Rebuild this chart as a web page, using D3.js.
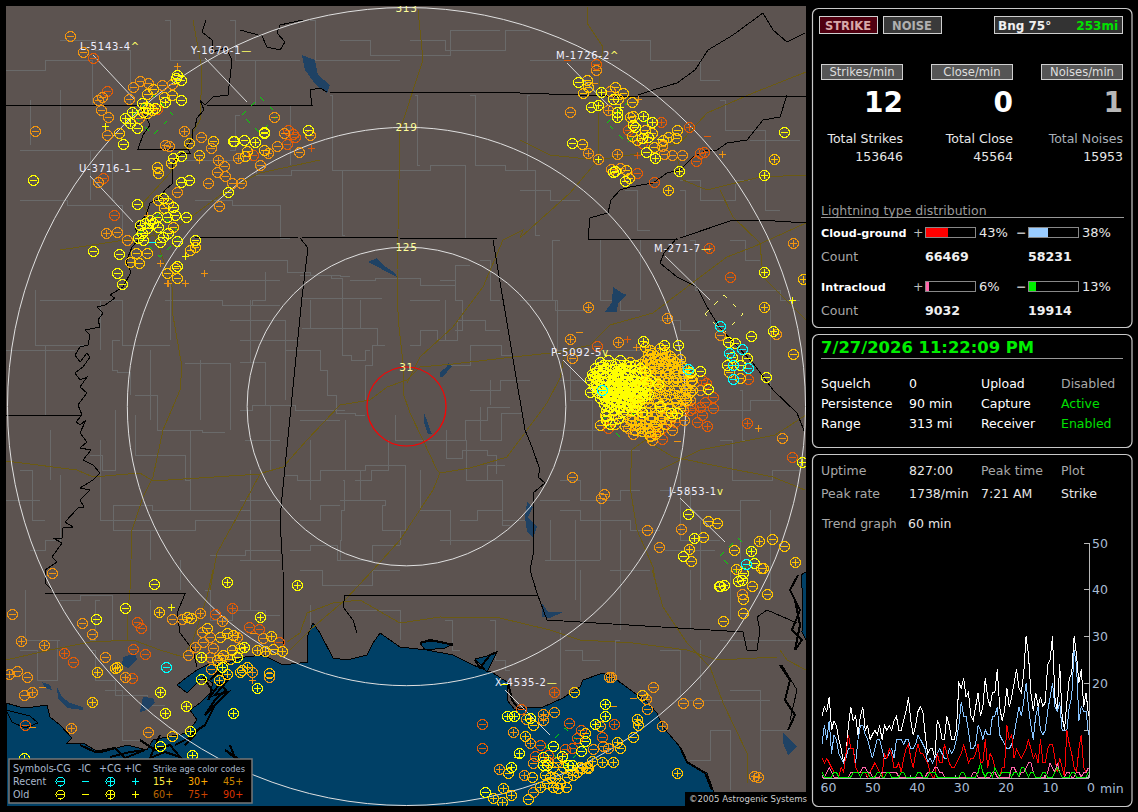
<!DOCTYPE html>
<html lang="en">
<head>
<meta charset="UTF-8">
<title>Lightning detector display</title>
<script src="https://d3js.org/d3.v7.min.js"></script>
<style>
  html, body { margin: 0; background: #000; }
  svg { display: block; font-family: "DejaVu Sans", sans-serif; }
  .crisp { shape-rendering: crispEdges; }
</style>
</head>
<body>
<svg width="1138" height="812"></svg>
<script>
// all map coordinates are in plot grid units, flat x,y lists
const ringMiles = [313, 219, 125];
const closeMiles = 31;

const gulf = [6,703,20,707,33,707,47,705,50,717,60,725,72,738,67,743,83,743,100,753,127,745,147,750,153,740,167,737,187,733,197,720,190,710,200,703,210,693,213,683,203,677,187,693,177,685,187,677,197,670,207,665,227,663,245,657,263,655,283,665,308,662,307,637,313,623,320,633,333,658,347,660,367,655,373,643,380,633,400,647,427,650,453,655,473,665,493,673,507,682,507,700,515,710,523,708,543,707,563,698,580,687,583,680,603,673,617,680,633,692,647,702,657,713,663,727,680,747,687,763,707,773,713,790,717,806,6,806];
const lakes = [
  [302,55,315,60,318,75,330,85,327,93,316,85,305,70],
  [368,262,377,258,383,265,395,273,397,277,387,272,378,267],
  [440,377,440,372,447,367,448,363,452,366,447,372,443,377],
  [424,413,427,420,430,430,432,434,428,434,424,423],
  [527,502,533,507,528,517,537,527,533,538,527,532,525,517],
  [542,603,548,612,563,612,550,618,542,617],
  [613,287,622,293,627,295,618,303,617,312,605,312,612,302],
  [123,657,135,653,137,660,128,668,122,665],
  [143,697,153,698,155,703,147,710,140,712],
  [57,687,62,697,70,703,83,707,83,710,67,708,58,698],
  [42,682,50,685,52,690,45,688],
  [783,733,797,747,788,755,783,743]
];
const bays = [
  [420,643,432,641,453,644,445,648,425,650],
  [475,659,487,656,497,652,492,662,487,672,480,664],
  [6,710,30,716,38,723,25,728,12,722],
  [801,575,806,572,806,640,802,632,803,600]
];
const marsh = [
  [203,677,212,690,208,700,220,683,226,690,215,700,205,715,215,705,205,725,190,735,200,728,185,745,195,735,175,745],
  [210,680,218,672,228,680,215,695,228,692,212,708],
  [80,745,95,752,115,748,125,758,145,750,130,752,110,757],
  [140,740,155,750,170,745,180,757,165,752,150,758,160,735],
  [230,745,235,758,225,750,240,760],
  [798,575,790,590,800,610,792,630,802,640,795,650,800,625,795,600],
  [780,665,790,680,785,700,795,715,788,730],
  [475,660,480,668,490,655,497,652],
  [420,643,430,640,445,643,453,645],
  [508,682,512,700,518,708],
  [680,747,687,762,705,773,712,790]
];
const borders = [
  [206,20,202,32,212,40,212,52,226,48,232,60,230,78,228,95,213,97,205,105,200,100,204,110,197,118,195,127,192,130,193,137,187,147,190,153,182,153,173,163,172,173,173,183,165,190,160,198,150,203,146,215,135,228,140,238,132,247,126,262,131,272,123,287,110,295,115,298,105,305,97,307,103,313,98,320,100,327,85,330,90,335,88,345,80,347,75,355,80,362,87,353,90,357,83,367,75,373,80,380,87,377,80,387,87,393,78,405,82,415,76,422,80,425,86,420,80,433,87,442,80,448,91,450,83,460,93,465,100,473,93,480,80,488,90,490,80,500,84,507,78,508,65,522,73,527,63,528,62,538,53,538,62,543,52,557,57,562,45,570,45,583,52,590],
  [6,105,140,105],[140,105,150,125,143,135,138,149,188,149],
  [207,105,312,105,310,90,320,88,327,92,520,93,607,96,787,96,806,97],
  [303,20,280,25,277,33,285,42,280,50,267,47,262,36,240,30],
  [195,238,300,237,497,239,588,239,678,239],
  [588,239,590,218,600,215,608,213,611,200,620,190,630,187,653,183,667,173,680,170,693,157,707,150,717,150,727,143,747,140,763,120,780,117,787,95],
  [638,95,653,90,677,83,695,70,708,50,733,35,763,13,773,30,787,42,805,33],
  [677,238,664,253,660,263,677,277,697,287,707,307,720,328,753,363,773,390,797,413,805,433],
  [680,238,733,220,760,220,806,223],
  [300,238,308,248,302,297,282,497,280,520,283,570,284,647],
  [493,240,512,353,525,430,532,447,540,470,538,477,545,483,533,493,533,530,534,550,530,570,537,593,547,620],
  [345,595,538,595],[345,595,343,607,353,620,357,633],
  [547,620,743,632,747,650,757,650,760,630,757,617,767,610,797,623],
  [6,415,82,415],
  [45,593,185,594,177,613,180,633,193,650,197,667],
  [782,665,797,690,790,720]
];
const highways = [
  [418,10,423,60,400,130,398,230,397,270,397,297,399,327,403,363,403,393,410,413,423,440,437,470,440,473,433,490,400,540,373,570,345,600,310,630,290,650],
  [6,461,77,470,93,477,140,473,153,481,260,474,262,473,283,467,307,440,340,405,370,400,387,387,407,380,420,367,453,364,513,357,560,352,590,345,610,325,653,313,687,287,727,257,753,247,806,223],
  [407,383,420,357,453,327,483,287,503,240,523,230,520,238,570,193,598,160,600,67,603,47,587,23,588,7],
  [440,473,470,468,507,457,527,430,547,403,560,378,565,352],
  [6,660,50,650,90,642,133,640,160,650,183,657,193,640,207,597,213,570],
  [127,640,127,620,130,590,132,530,143,497,153,477,163,430,180,390,182,367,172,310,173,290,160,250,143,203,170,173,200,120,202,70,193,20],
  [287,642,300,633,307,613,333,603,360,600,400,623,440,617,500,618,550,630,580,640,633,643,687,650,717,660,777,657],
  [652,570,663,607,687,643,710,667,723,703,747,753,747,783],
  [645,440,632,450,630,487,637,530,653,567,657,590],
  [645,440,673,457,727,468,773,477,805,490],
  [520,140,550,155,597,160,643,153,680,143,707,113,753,93,806,72],
  [677,157,683,180,707,190,760,177,806,175],
  [720,190,733,217,760,243,763,277,806,320],
  [260,474,237,517,217,553,210,590],
  [320,160,260,173,227,190,170,233,60,250],
  [780,650,787,660,806,670],
  [806,415,775,435,700,450,660,470]
];
const counties = [
  [253,260,285,260,290,272,330,275,350,276],[300,275,320,275,342,278,342,298,382,298],[265,272,265,300,240,305],[342,298,342,328,375,328,380,345],[302,298,342,298],
  [302,328,342,328,342,355,360,360,370,350],[240,362,265,362,265,405,240,410],[265,405,325,410,345,410],[327,370,327,395,345,413,365,415],[285,350,320,350,320,370,327,370],
  [330,470,400,465,410,490,400,530],[340,500,375,500,395,505,370,530,405,530],[343,480,345,510,338,540,343,560],[395,415,395,440,430,440,465,440,465,420,510,407],[463,440,470,480,505,465],
  [480,407,480,440,523,413],[447,430,445,458,480,450,495,455,497,473],[388,440,388,470,355,480],[300,520,340,505],[285,475,310,480,330,470],[290,550,330,545,345,560,400,545],[300,570,345,585,400,570],[400,545,400,530],[440,540,480,540,530,540],
  [470,480,500,480,505,520,530,520],[460,520,495,510,510,525],[420,470,420,510,450,510,450,545],[350,280,400,278,440,285,470,265],[410,345,430,330,445,340,470,320,500,330],[440,280,470,300,455,330],[450,365,490,345,512,355],[470,390,530,380],[490,380,490,405],[370,400,360,365,385,345],
  [40,300,120,300],[35,290,35,345,85,345],[6,350,75,350],[45,345,45,415],[120,300,125,345,170,345],[170,340,170,280],[120,340,105,370,130,372,130,395],[135,395,180,430,225,432],[185,363,230,363,230,430],[230,320,285,320,285,400],[165,300,280,305],
  [115,410,115,470,90,455],[135,415,135,455,180,455,190,480],[190,430,190,510,250,510,250,475],[190,510,115,505,112,530,150,530,150,560],[150,530,240,520,280,520],[180,560,180,590],[210,555,280,550],[60,475,60,540,30,550],[20,470,45,520],[25,590,25,640,60,640],[60,600,100,595,125,640],[150,600,150,640],[205,590,215,620,250,610,280,615],[250,570,250,610],[20,650,55,680,60,640],[90,650,100,680,130,695,165,705],[105,690,140,740],
  [60,40,130,50,130,105],[6,70,85,60],[85,60,100,105],[165,20,175,60,230,60],[230,20,240,60,300,60],[260,60,250,105],[310,20,320,60,400,60],[20,150,110,150,115,200],[20,200,115,205,130,240],[185,160,250,160,262,175,320,170],[195,200,270,205,290,238],[240,115,230,150],[290,105,290,165],[330,95,335,170,400,170],[340,170,345,235],[400,170,460,165,470,238],[415,95,420,165],[470,95,480,165,530,170],[530,95,525,170],[410,40,480,50,530,30],[340,40,400,55,500,30],[530,170,540,235],
  [560,240,545,300,570,350],[600,240,600,300,640,310],[640,240,640,300],[520,300,590,310],[555,350,585,400,600,450,600,560],[560,450,640,450],[560,480,600,500,640,490],[540,430,600,430],[560,510,600,520],[680,450,680,540,720,540],[660,490,720,510,760,500],[720,440,745,480,800,470],[660,390,720,410,780,400],[740,390,745,440],[770,310,770,400],[660,320,700,330],[700,290,760,290,800,300],[690,240,700,290],[730,240,760,260],[620,40,680,60,720,80],[530,60,620,60],[720,100,730,130,800,140],[680,180,720,200,750,180],[625,190,650,230],[680,190,690,235],[750,140,780,210],[520,190,580,200],
  [560,630,560,700],[620,640,610,680],[660,650,700,700,770,700],[700,640,700,690],[720,640,800,640],[730,690,790,730],[760,700,760,770],[690,760,730,730,730,790],[445,620,460,650],[490,620,500,660,510,670],[350,610,400,610,400,640],[310,605,310,640],[100,600,90,640],[565,650,600,660],[620,590,620,630],[580,570,580,620],[690,570,690,630],[730,570,730,620],[600,520,660,530],[545,560,600,560],
  [250,300,250,362],[240,340,300,340],[270,405,270,470],[245,440,280,440],[240,500,280,500],[250,470,250,560],[240,560,280,560],[300,420,340,420],[310,440,310,500],[345,420,345,470],[360,470,360,500],[310,300,310,328],[360,300,360,328],[445,300,445,340],[480,260,500,300],[410,300,440,300],[540,500,570,500],[550,520,550,560],[575,520,575,600],[610,570,650,570],[620,530,620,590],[665,550,715,550],[700,520,700,600],[740,500,740,560],[770,510,770,600],[640,350,560,380],[100,440,100,520],[100,520,150,520],[50,430,50,480],[6,500,40,500],[100,350,100,300],[150,350,150,420],[200,360,200,420],[210,260,280,260],[210,280,280,280],[90,200,90,150],[60,90,60,140],[30,100,30,145]
];

const negY = [[177,75],[181,80],[176,78],[181,100],[123,144],[181,156],[173,158],[181,182],[189,180],[228,192],[233,141],[234,141],[244,140],[264,132],[264,133],[308,130],[142,103],[148,108],[155,108],[143,112],[137,128],[137,204],[93,251],[119,254],[140,225],[145,223],[150,220],[147,228],[153,223],[142,233],[138,238],[143,240],[157,217],[158,227],[163,237],[168,233],[160,242],[167,217],[175,215],[186,217],[163,198],[173,207],[177,241],[195,240],[177,266],[122,284],[117,273],[33,180],[578,82],[601,92],[613,99],[591,107],[572,143],[615,171],[613,172],[625,181],[646,152],[642,138],[633,125],[635,127],[648,137],[784,132],[751,336],[728,342],[735,343],[732,357],[747,358],[727,365],[740,365],[766,377],[683,556],[751,551],[754,563],[743,573],[742,580],[738,581],[724,585],[719,586],[720,586],[125,608],[96,619],[154,584],[201,657],[237,657],[201,679],[160,746],[585,741],[581,751],[553,746],[543,757],[543,765],[547,765],[572,765],[485,792],
  [600,362],[608,360],[615,364],[620,360],[595,368],[605,368],[612,370],[622,368],[630,366],[640,368],[592,374],[600,374],[610,376],[618,374],[628,374],[636,376],[645,372],[590,380],[598,380],[606,382],[614,380],[622,382],[632,380],[640,382],[650,380],[594,386],[602,386],[610,388],[618,386],[626,388],[634,386],[644,388],[597,392],[605,392],[613,394],[621,392],[629,394],[638,392],[648,394],[600,398],[608,398],[616,400],[624,398],[632,400],[642,398],[604,404],[612,404],[620,406],[628,404],[636,406],[606,410],[614,410],[622,412],[632,410],[642,412],[606,416],[618,418],[593,376],[590,392],[606,420],[610,424],[640,395],[627,395],[622,388],[630,388],[616,388],[658,384],[671,413],[677,413],[688,514],[660,406],[620,370],[690,372],[700,371],[708,389],[678,345],[664,345]];
const negYCore = [[597,371],[603,371],[616,371],[625,371],[634,371],[595,377],[604,377],[613,377],[623,377],[632,377],[642,377],[596,383],[604,383],[612,383],[620,383],[629,383],[638,383],[647,383],[600,389],[607,389],[615,389],[624,389],[632,389],[641,389],[602,395],[610,395],[618,395],[626,395],[635,395],[645,395],[606,401],[614,401],[622,401],[630,401],[639,401],[610,407],[618,407],[626,407],[634,407],[603,365],[611,365],[626,365],[635,365],[611,392],[619,384],[625,392],[617,378],[631,384],[621,397],[613,388]];
const negG = [[172,95],[164,97],[147,94],[153,89],[119,133],[189,143],[213,141],[199,155],[171,163],[157,167],[158,173],[145,107],[152,110],[147,113],[173,227],[168,203],[158,200],[164,208],[147,253],[195,247],[190,250],[136,253],[139,263],[130,262],[175,268],[167,273],[177,278],[233,141],[264,150],[247,151],[245,156],[587,80],[588,87],[583,93],[615,87],[623,93],[618,99],[632,102],[630,117],[633,116],[632,136],[637,140],[645,130],[652,133],[676,138],[677,130],[668,137],[663,140],[654,147],[582,144],[626,170],[629,178],[708,521],[717,523],[703,537],[691,561],[772,539],[784,546],[734,550],[761,568],[763,568],[752,586],[793,354],[729,372],[740,378],[723,621],[743,613],[743,599],[767,594],[752,586],[574,692],[642,695],[533,725],[585,733],[633,737],[620,748],[532,777],[508,773],[528,799],[273,649],[269,673],[187,617],[191,618],[207,628],[220,637],[227,633],[233,635],[240,648],[232,650],[223,655],[217,660],[230,659],[240,672],[242,670],[172,736],[545,775],[550,777],[555,778],[547,783],[553,787],[558,788],[566,787],[560,783],[567,777],[573,775],[577,772],[582,768],[588,768],[570,770],[580,767],[587,767],[553,767],[563,767],
  [645,347],[650,350],[660,348],[648,354],[655,356],[665,352],[670,356],[645,360],[652,362],[660,360],[668,364],[675,362],[630,362],[640,364],[650,368],[658,368],[668,370],[676,370],[684,368],[640,372],[650,376],[660,376],[668,378],[676,378],[684,376],[692,380],[630,384],[642,384],[650,386],[660,386],[668,386],[678,386],[686,388],[640,394],[650,394],[660,394],[670,394],[680,396],[690,392],[628,404],[636,402],[648,402],[658,402],[668,404],[676,402],[686,400],[614,414],[626,414],[636,412],[646,412],[656,412],[666,412],[630,420],[640,420],[650,420],[660,420],[640,428],[648,428],[655,426],[655,434],[650,436],[635,430],[625,426],[615,424],[605,415],[600,425]];
const negGCore = [[652,353],[662,353],[648,359],[656,359],[664,359],[672,359],[680,359],[644,366],[654,366],[663,366],[672,366],[681,366],[646,373],[656,373],[665,373],[674,373],[683,373],[690,373],[646,381],[655,381],[664,381],[673,381],[682,381],[691,381],[645,390],[655,390],[665,390],[675,390],[685,390],[692,390],[645,398],[655,398],[665,398],[675,398],[685,398],[640,408],[650,408],[660,408],[670,408],[680,408],[632,416],[642,416],[652,416],[662,416],[672,416],[636,424],[646,424],[656,424],[666,424],[642,431],[650,431],[658,431]];
const negO = [[70,36],[83,52],[102,97],[98,100],[101,110],[108,117],[133,87],[140,81],[148,83],[162,85],[172,84],[129,99],[139,118],[107,135],[201,137],[211,148],[165,145],[169,146],[177,192],[208,183],[219,206],[232,183],[241,183],[217,172],[224,166],[225,176],[98,182],[127,240],[117,232],[260,165],[277,146],[274,117],[284,133],[299,152],[310,135],[35,131],[610,91],[596,70],[570,112],[662,146],[664,154],[672,155],[682,155],[620,168],[611,169],[572,358],[681,529],[647,530],[659,547],[572,477],[604,494],[601,498],[782,438],[720,335],[776,334],[742,594],[653,687],[646,699],[647,709],[683,703],[698,703],[526,719],[554,712],[603,746],[593,749],[600,726],[508,773],[533,792],[12,614],[52,573],[82,623],[92,634],[172,619],[182,619],[263,638],[269,677],[105,657],[27,677],[24,695],[17,671],[148,732],[648,432],[633,434],[202,632],[210,637],[203,642],[213,648],[188,655],[210,657],[220,658],[211,669],[240,672],[548,762],[533,763],[557,762],
  [628,428],[640,424],[612,420],[684,420],[672,430],[690,400],[683,410],[670,420],[663,418],[652,440],[700,390]];
const negR = [[93,58],[107,91],[157,109],[103,178],[114,215],[253,155],[287,144],[288,130],[295,137],[293,134],[596,64],[628,130],[642,143],[637,173],[654,182],[696,161],[700,153],[704,152],[730,277],[597,346],[702,380],[706,383],[713,397],[705,402],[700,407],[693,408],[713,408],[702,415],[697,422],[690,410],[662,439],[675,422],[662,428],[608,428],[633,434],[650,432],[655,432],[792,457],[748,379],[521,709],[482,724],[482,748],[569,723],[577,738],[602,737],[581,730],[572,748],[565,749],[540,745],[137,622],[141,628],[73,662],[133,649],[145,654],[132,678],[25,725],[215,614],[249,627],[259,629],[279,642],[535,756],[548,755]];
const posY = [[165,102],[132,112],[125,118],[130,123],[255,142],[643,341],[598,105],[601,92],[643,116],[652,122],[655,158],[679,171],[617,117],[617,112],[694,538],[751,551],[605,704],[605,716],[595,724],[507,716],[514,716],[530,718],[519,753],[511,767],[562,756],[568,765],[764,175],[764,272],[802,462],[773,331],[227,582],[297,585],[260,617],[244,647],[201,657],[222,667],[257,688],[233,713],[190,731],[186,706],[160,692],[165,713],[192,755],[24,758],[608,395],[618,380],[630,405]];
const posG = [[774,159],[689,549],[736,569],[759,541],[795,562],[764,272],[764,307],[803,279],[159,612],[97,672],[117,667],[115,668],[271,636],[282,651],[265,651],[257,650],[227,674],[219,680],[247,667],[92,702],[637,719],[638,725],[617,742],[525,736],[503,788],[511,795],[493,798],[502,802],[540,787],[592,761],[602,762],[613,762],[677,773],[668,190],[660,387]];
const posO = [[184,131],[218,160],[238,158],[268,153],[106,233],[608,110],[617,154],[598,159],[588,153],[570,339],[618,342],[793,243],[588,307],[667,318],[200,613],[222,621],[44,645],[21,641],[32,692],[9,674],[71,728],[237,637],[195,647],[252,672],[125,677],[611,677],[609,677],[543,714],[543,720],[513,732],[530,743],[499,769],[524,775],[608,748],[662,726],[754,776],[758,777]];
const posR = [[64,653],[232,608],[709,248],[747,423],[554,692],[614,724],[707,426],[661,122],[689,127]];
const cyanNeg = [[720,326],[742,349],[729,353],[733,365],[748,368],[733,379],[688,369],[746,564],[166,667],[602,390]];
const cyanPos = [[152,242]];
const icPosY = [[105,126],[185,256],[620,107],[598,159],[792,300],[171,607]];
const icPosO = [[177,66],[199,160],[160,263],[204,273],[167,283],[185,283],[147,215],[638,99],[722,154],[636,347],[758,428],[252,680],[168,283]];
const icPosR = [[311,148],[637,155],[627,339]];
const icNegY = [[660,139],[160,746],[517,757],[504,684]];
const icNegO = [[594,83],[579,332],[677,441],[42,687],[253,633],[32,727],[633,698],[613,706]];
const icNegR = [[707,136],[567,60]];

const cellNames = ["L-5143-4", "Y-1670-1", "U-3716-1", "M-1726-2", "M-271-7", "P-5092-5", "J-5853-1", "X-4535-2"];
const cellTrend = ["^", "—", "—", "^", "—", "v", "v", "—"];
const cellLabelAt = [[80,50],[191,54],[79,172],[556,59],[654,252],[551,356],[669,495],[495,686]];
const cellLeader = [[93,55,135,100],[205,58,247,102],[90,176,133,222],[567,63,610,107],[665,256,710,300],[563,360,600,397],[680,498,725,542],[505,690,550,735]];
const cellBox = [[153,115,20],[260,115,18],[160,235,22],[627,123,20],[724,314,19],[621,420,18],[738,556,18],[565,747,19]];
const cellBoxColor = ["#00e000", "#00e000", "#00e000", "#00e000", "#ffff66", "#00e000", "#00e000", "#00e000"];

// trend graph, strikes per minute, oldest first
const trendTotal = [13,15,14,17,10,12,11,8,6,3,5,11,15,12,13,9,13,15,10,11,8,9,10,9,11,8,11,10,11,10,12,13,10,10,12,14,17,12,9,11,14,15,14,9,5,6,6,4,12,11,8,8,13,11,8,8,10,20,19,21,17,18,13,12,15,18,13,15,21,17,15,18,18,23,15,12,14,19,15,17,20,23,19,18,22,30,26,18,14,18,15,17,15,16,24,25,30,17,14,24,13,10,16,21,22,30,26,20,23,15,18,13];
const trendNegCg = [7,11,8,12,5,9,8,5,4,3,4,6,6,6,3,8,11,11,9,8,6,4,6,8,8,6,4,4,5,6,4,8,8,8,7,8,8,6,6,7,9,8,7,6,3,4,3,4,5,6,5,4,4,6,5,6,8,11,16,13,13,10,6,6,7,11,10,8,10,9,9,13,13,15,9,8,7,6,6,7,9,12,15,13,16,20,15,11,8,13,15,10,9,10,14,17,20,15,14,16,10,10,10,15,17,27,24,12,15,14,14,9];
const trendPosCg = [4,3,4,3,2,1,1,0,2,1,5,9,6,6,2,1,1,1,1,0,1,2,3,2,1,0,5,4,6,5,2,2,3,1,4,6,7,4,2,5,7,5,5,4,3,1,0,0,5,3,3,7,5,3,2,2,3,4,5,7,5,3,4,4,5,7,3,3,8,2,5,4,2,1,0,2,2,11,8,9,4,6,5,4,5,6,8,6,4,5,3,8,3,3,6,7,7,4,1,4,2,0,10,7,5,2,1,6,9,2,1,2];
const trendPosIc = [0,0,1,2,1,0,0,0,0,0,0,0,1,1,1,1,1,2,2,1,1,0,0,0,0,1,1,1,1,1,1,1,0,0,0,0,0,0,0,0,0,0,0,0,1,1,1,2,2,1,1,0,0,0,0,0,0,0,0,0,0,0,0,1,1,0,0,0,0,0,0,1,1,0,0,0,0,0,0,2,2,1,0,1,1,2,3,3,1,0,0,0,0,0,1,3,2,1,3,1,0,0,1,1,0,0,1,1,0,1,1,2];
const trendNegIc = [1,0,0,0,0,1,1,0,0,0,0,0,0,1,1,1,0,1,1,1,0,0,0,1,1,0,0,1,1,0,0,0,0,1,1,0,0,0,0,0,1,1,0,0,0,1,1,1,0,0,0,0,0,0,0,0,0,0,1,1,0,0,0,0,0,1,3,1,0,1,1,0,2,1,0,1,1,1,1,0,1,1,0,2,2,1,0,1,1,0,0,0,1,1,0,0,0,1,2,1,0,0,0,0,1,1,0,0,0,0,0,1];
const trendTickValues = [50, 40, 30, 20, 10, 0];
const trendLabelValues = [50, 40, 30, 20];
const trendMinuteTicks = [60, 50, 40, 30, 20, 10, 0];

const typeRows = [["Cloud-ground", 43, 38, 66469, 58231], ["Intracloud", 6, 13, 9032, 19914]];
const rateLabels = ["Strikes/min", "Close/min", "Noises/min"];
const rateValues = [12, 0, 1];
const totalLabels = ["Total Strikes", "Total Close", "Total Noises"];
const totalValues = [153646, 45564, 15953];
const statusRows = [["Squelch", "0", "Upload", "Disabled"], ["Persistence", "90 min", "Capture", "Active"], ["Range", "313 mi", "Receiver", "Enabled"]];
const ageLabels = ["15+", "30+", "45+", "60+", "75+", "90+"];
const ageColors = ["#ffee44", "#ffaa00", "#cc8800", "#bb6600", "#cc4400", "#dd3300"];

const YEL = "#ffff00", GOLD = "#ffc400", ORG = "#f09410", RED = "#e05c08", CYAN = "#00ffff";
const svg = d3.select("svg");
svg.append("rect").attr("width", 1138).attr("height", 812).attr("fill", "#000");

const mapX = d3.scaleLinear().domain([6, 806]).range([6, 806]);
const mapY = d3.scaleLinear().domain([6, 806]).range([6, 806]);
const ringR = d3.scaleLinear().domain([0, 313]).range([0, 399]);
const pairs = f => d3.range(0, f.length, 2).map(i => [f[i], f[i + 1]]);
const path = d3.line().x(d => mapX(d[0])).y(d => mapY(d[1]));
const stepPath = d3.line().x(d => mapX(d[0])).y(d => mapY(d[1])).curve(d3.curveStep);

svg.append("defs").append("clipPath").attr("id", "mapclip").append("rect").attr("x", 6).attr("y", 6).attr("width", 800).attr("height", 800);
const map = svg.append("g").attr("clip-path", "url(#mapclip)");
map.append("rect").attr("x", 6).attr("y", 6).attr("width", 800).attr("height", 800).attr("fill", "#5c5350");

function polys(list, fill, stroke, width) {
  map.append("g").selectAll("path").data(list).join("path")
    .attr("d", d => path(pairs(d)) + (fill !== "none" ? "Z" : ""))
    .attr("fill", fill).attr("stroke", stroke).attr("stroke-width", width)
    .attr("class", "crisp");
}
map.append("g").selectAll("path").data(counties).join("path")
  .attr("d", d => stepPath(pairs(d))).attr("fill", "none").attr("stroke", "#6a6a6a").attr("class", "crisp");
polys([gulf], "#004066", "#000", 1);
polys(bays, "#004066", "#000", 1);
polys(lakes, "#1f4264", "none", 0);
polys(marsh, "none", "#000", 2);
polys(highways, "none", "#6b5a12", 1);
polys(borders, "none", "#000", 1);

const cx = mapX(406.5), cy = mapY(406.5);
map.append("g").selectAll("circle").data(ringMiles).join("circle")
  .attr("cx", cx).attr("cy", cy).attr("r", d => ringR(d))
  .attr("fill", "none").attr("stroke", "#e0e0e0").attr("stroke-width", 1);
map.append("circle").attr("cx", cx).attr("cy", cy).attr("r", ringR(closeMiles))
  .attr("fill", "none").attr("stroke", "#ff0000").attr("stroke-width", 1.2);

// cell leaders and dashed boxes
map.append("g").selectAll("line").data(cellLeader).join("line")
  .attr("x1", d => mapX(d[0])).attr("y1", d => mapY(d[1]))
  .attr("x2", d => mapX(d[2])).attr("y2", d => mapY(d[3]))
  .attr("stroke", "#d8d8d8").attr("stroke-width", 1);
map.append("g").selectAll("path").data(cellBox).join("path")
  .attr("d", d => path([[d[0] - d[2], d[1]], [d[0], d[1] - d[2]], [d[0] + d[2], d[1]], [d[0], d[1] + d[2]]]) + "Z")
  .attr("fill", "none").attr("stroke", (d, i) => cellBoxColor[i]).attr("stroke-dasharray", "5 8").attr("class", "crisp");

// strikes
function strikes(list, kind, color) {
  const g = map.append("g").selectAll("g").data(list).join("g")
    .attr("transform", d => `translate(${Math.round(mapX(d[0])) + 0.5},${Math.round(mapY(d[1])) + 0.5})`)
    .attr("stroke", color).attr("fill", "none").attr("class", "crisp");
  if (kind === "negCg" || kind === "posCg") g.append("circle").attr("r", 5);
  g.append("line").attr("x1", -3.5).attr("x2", 3.5);
  if (kind === "posCg" || kind === "posIc") g.append("line").attr("y1", -3.5).attr("y2", 3.5);
}
strikes(negR, "negCg", RED); strikes(posR, "posCg", RED);
strikes(icPosR, "posIc", RED); strikes(icNegR, "negIc", RED);
strikes(negO, "negCg", ORG); strikes(posO, "posCg", ORG);
strikes(icPosO, "posIc", ORG); strikes(icNegO, "negIc", ORG);
strikes(negG, "negCg", GOLD); strikes(negGCore, "negCg", GOLD); strikes(posG, "posCg", GOLD);
strikes(negY, "negCg", YEL); strikes(negYCore, "negCg", YEL); strikes(posY, "posCg", YEL);
strikes(icPosY, "posIc", YEL); strikes(icNegY, "negIc", YEL);
strikes(cyanNeg, "negCg", CYAN); strikes(cyanPos, "negIc", CYAN);

// ring labels
map.append("g").selectAll("text").data(ringMiles.concat([closeMiles])).join("text")
  .attr("x", cx).attr("y", d => cy - ringR(d) + 4).attr("text-anchor", "middle")
  .attr("fill", "#ffff99").attr("font-size", 10.5).attr("letter-spacing", 0.6)
  .text(d => d);

const cells = map.append("g").selectAll("text").data(cellNames).join("text")
  .attr("x", (d, i) => mapX(cellLabelAt[i][0])).attr("y", (d, i) => mapY(cellLabelAt[i][1]))
  .attr("fill", "#f0f0ff").attr("font-size", 10).attr("letter-spacing", 0.8);
cells.append("tspan").text(d => d);
cells.append("tspan").attr("fill", "#ffff66").text((d, i) => cellTrend[i]);

// map legend
const leg = svg.append("g");
leg.append("rect").attr("x", 9).attr("y", 759).attr("width", 243).attr("height", 44).attr("fill", "#000").attr("stroke", "#777").attr("stroke-width", 1.5);
const legText = (x, y, t, c, s) => leg.append("text").attr("x", x).attr("y", y).attr("fill", c || "#a9b8cc").attr("font-size", s || 9.6).text(t);
legText(13, 772, "Symbols"); legText(53, 772, "-CG"); legText(78, 772, "-IC"); legText(99, 772, "+CG"); legText(124, 772, "+IC"); legText(153, 772, "Strike age color codes", null, 8.3);
legText(13, 785, "Recent"); legText(13, 798, "Old");
const legendMark = (x, y, kind, color) => {
  const g = leg.append("g").attr("transform", `translate(${x},${y})`).attr("stroke", color).attr("fill", "none").attr("class", "crisp");
  if (kind.includes("Cg")) g.append("circle").attr("r", 4.5);
  g.append("line").attr("x1", -3.5).attr("x2", 3.5);
  if (kind.startsWith("pos")) g.append("line").attr("y1", -3.5).attr("y2", 3.5);
};
["negCg", "negIc", "posCg", "posIc"].forEach((k, i) => {
  legendMark([60.5, 85.5, 110.5, 135.5][i], 781.5, k, CYAN);
  legendMark([60.5, 85.5, 110.5, 135.5][i], 794.5, k, YEL);
});
ageLabels.forEach((t, i) => legText([153, 188, 223][i % 3], i < 3 ? 785 : 798, t, ageColors[i]));

svg.append("rect").attr("x", 685).attr("y", 792).attr("width", 121).attr("height", 14).attr("fill", "#000");
svg.append("text").attr("x", 689).attr("y", 802).attr("fill", "#cfcfcf").attr("font-size", 8.6).text("©2005 Astrogenic Systems");

// side panels
const panels = [[8, 319], [334, 113], [454, 352]];
svg.append("g").selectAll("rect").data(panels).join("rect")
  .attr("x", 812.5).attr("y", d => d[0] + 0.5).attr("width", 319.5).attr("height", d => d[1])
  .attr("rx", 6).attr("fill", "#000").attr("stroke", "#c8c8c8").attr("stroke-width", 1.2);

const txt = (x, y, t, opts = {}) => svg.append("text").attr("x", x).attr("y", y)
  .attr("fill", opts.c || "#e6e6e6").attr("font-size", opts.s || 12.5)
  .attr("font-weight", opts.b ? "bold" : null).attr("text-anchor", opts.a || "start").text(t);
const button = (x, y, w, h, fill) => svg.append("rect").attr("x", x + 0.5).attr("y", y + 0.5).attr("width", w).attr("height", h)
  .attr("fill", fill).attr("stroke", "#cfcfcf").attr("class", "crisp");

button(819, 16, 58, 17, "#500010"); txt(848, 30, "STRIKE", { c: "#d8a8a8", b: 1, s: 11.5, a: "middle" });
button(883, 16, 58, 17, "#3a3a3a"); txt(912, 30, "NOISE", { c: "#b0b0b0", b: 1, s: 11.5, a: "middle" });
button(994, 16, 128, 17, "#333"); txt(998, 30, "Bng 75°", { c: "#f0f0f0", b: 1, s: 12 }); txt(1118, 30, "253mi", { c: "#00e000", b: 1, s: 12, a: "end" });

const colRight = [903, 1013, 1123];
rateLabels.forEach((t, i) => {
  button(colRight[i] - 82, 64, 81, 15, "#555");
  txt(colRight[i] - 41, 76, t, { a: "middle", c: "#dedede", s: 11.6 });
  txt(colRight[i], 112, rateValues[i], { b: 1, s: 28, a: "end", c: i === 2 ? "#b8b8b8" : "#fff" });
  txt(colRight[i], 143, totalLabels[i], { a: "end", c: i === 2 ? "#a8b0b8" : "#e8e8e8" });
  txt(colRight[i], 161, totalValues[i], { a: "end" });
});

txt(821, 215, "Lightning type distribution", { c: "#9a9a9a" });
const rule = (y, x2) => svg.append("line").attr("x1", 821).attr("x2", x2).attr("y1", y + 0.5).attr("y2", y + 0.5).attr("stroke", "#999").attr("class", "crisp");
rule(217, 1124);

const pct = d3.scaleLinear().domain([0, 100]).range([0, 50]);
const barColors = [["#ff0000", "#99ccff"], ["#ff66aa", "#00ee00"]];
typeRows.forEach((row, r) => {
  const y = [237, 291][r];
  txt(821, y, row[0], { b: 1, c: "#fff", s: 11.2 });
  txt(913, y, "+", { c: "#bbb" }); txt(1016, y, "−", { c: "#bbb", b: 1 });
  [925, 1028].forEach((bx, k) => {
    svg.append("rect").attr("x", bx + 0.5).attr("y", y - 10 + 0.5).attr("width", 50).attr("height", 10).attr("fill", "#000").attr("stroke", "#888").attr("class", "crisp");
    svg.append("rect").attr("x", bx + 1).attr("y", y - 9).attr("width", pct(row[1 + k])).attr("height", 9).attr("fill", barColors[r][k]).attr("class", "crisp");
    txt(bx + 54, y, row[1 + k] + "%", { c: "#e8e8e8", s: 13 });
    txt(bx, y + 24, row[3 + k], { b: 1, c: "#f0f0f0", s: 12.6 });
  });
  txt(821, y + 24, "Count", { c: "#a8a8a8" });
});

txt(821, 353, "7/27/2026 11:22:09 PM", { c: "#00ee00", b: 1, s: 16.4 });
rule(358, 1123);
statusRows.forEach((row, r) => {
  const y = 388 + r * 20;
  txt(821, y, row[0], { c: "#fff" }); txt(909, y, row[1], { c: "#fff" }); txt(981, y, row[2], { c: "#fff" });
  txt(1061, y, row[3], { c: row[3] === "Disabled" ? "#a8a8a8" : "#00e000" });
});

const g3 = "#a8a8a8";
txt(821, 475, "Uptime", { c: g3 }); txt(909, 475, "827:00"); txt(981, 475, "Peak time", { c: g3 }); txt(1061, 475, "Plot", { c: g3 });
txt(821, 498, "Peak rate", { c: g3 }); txt(909, 498, "1738/min"); txt(981, 498, "7:21 AM"); txt(1061, 498, "Strike");
txt(822, 528, "Trend graph", { c: g3 }); txt(908, 528, "60 min");

// trend graph
const trendX = d3.scaleLinear().domain([60, 0]).range([822, 1088.5]);
const trendY = d3.scaleLinear().domain([0, 50]).range([777, 542.5]);
const axisColor = "#b8b8b8";
const yAxis = svg.append("g").attr("transform", "translate(1088.5,0)").attr("class", "crisp")
  .call(d3.axisLeft(trendY).tickValues(trendTickValues).tickSize(5).tickSizeOuter(0).tickFormat(""));
yAxis.selectAll("line,path").attr("stroke", axisColor);
const xAxis = svg.append("g").attr("transform", "translate(0,777.5)").attr("class", "crisp")
  .call(d3.axisBottom(trendX).tickValues(trendMinuteTicks).tickSize(0).tickSizeOuter(0).tickPadding(6));
xAxis.selectAll("path").attr("stroke", axisColor);
xAxis.selectAll("text").attr("font-size", 12.5).attr("fill", "#a8bcd4").attr("text-anchor", "start").attr("dx", -2).attr("font-family", '"DejaVu Sans", sans-serif');
svg.append("g").selectAll("line").data(trendMinuteTicks).join("line")
  .attr("x1", d => trendX(d)).attr("x2", d => trendX(d)).attr("y1", 775).attr("y2", 777).attr("stroke", axisColor).attr("class", "crisp");
svg.append("g").selectAll("text").data(trendLabelValues).join("text")
  .attr("x", 1092).attr("y", d => trendY(d) + 5).attr("fill", "#a8bcd4").attr("font-size", 12.5).text(d => d);
txt(1100, 793, "min", { c: "#a8bcd4" });

const seriesLine = (vals, color) => {
  const minutes = vals.map((v, i) => 60 * (1 - i / (vals.length - 1)));
  svg.append("path").attr("fill", "none").attr("stroke", color).attr("stroke-width", 1).attr("class", "crisp")
    .attr("d", d3.line().x((d, i) => trendX(minutes[i])).y(d => trendY(d))(vals));
};
seriesLine(trendTotal, "#fff");
seriesLine(trendNegCg, "#88c4ff");
seriesLine(trendPosCg, "#ff0000");
seriesLine(trendPosIc, "#ff66aa");
seriesLine(trendNegIc, "#00ee00");
</script>
</body>
</html>
